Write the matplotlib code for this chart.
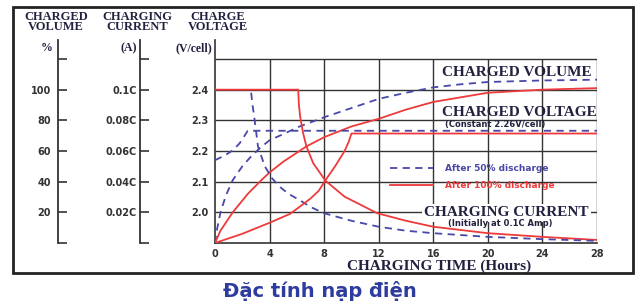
import matplotlib.pyplot as plt
from matplotlib.patches import Rectangle

# charging time (hours) and readings, after 50% discharge (blue) / 100% discharge (red)
blue_vol_h = [0, 0.15, 0.4, 0.8, 1.3, 2.0, 2.6, 3.3, 4.0, 5.0, 6.2, 8.0, 10, 12, 14, 16, 18, 20, 24, 28]
blue_vol = [0, 9, 20, 31, 41, 50, 56, 62, 67, 71, 76, 82, 88, 94, 98, 101.5, 103.5, 105, 106, 106.5]
red_vol_h = [0, 0.4, 1.3, 2.4, 3.4, 4.0, 5.0, 6.7, 8.0, 10, 12, 14, 16, 18, 20, 22, 24, 26, 28]
red_vol = [0, 8, 20, 32, 41, 46, 53, 63, 69, 76, 81, 87, 92, 95, 98, 99, 100, 100.5, 101]

blue_volt_h = [0, 0.7, 1.33, 1.8, 2.1, 2.4, 28]
blue_volt = [2.17, 2.185, 2.203, 2.225, 2.245, 2.266, 2.266]
red_volt_h = [0, 2, 4, 5.5, 6.2, 7, 7.6, 8.1, 8.8, 9.5, 9.8, 10.0, 28]
red_volt = [1.9, 1.93, 1.966, 1.995, 2.018, 2.045, 2.07, 2.105, 2.15, 2.2, 2.23, 2.257, 2.257]

blue_cur_h = [2.65, 2.75, 2.88, 3.15, 3.65, 4.2, 4.75, 5.4, 6.2, 7.0, 8.0, 10, 12, 14, 16, 20, 24, 28]
blue_cur = [0.098, 0.09, 0.082, 0.063, 0.05, 0.042, 0.0366, 0.032, 0.028, 0.0235, 0.0194, 0.0145, 0.0106, 0.008, 0.0064, 0.004, 0.0025, 0.0014]
red_cur_h = [0, 6.1, 6.15, 6.25, 6.45, 6.7, 7.2, 8.1, 9.5, 11.9, 14, 16, 20, 24, 28]
red_cur = [0.1, 0.1, 0.09, 0.082, 0.072, 0.063, 0.052, 0.0406, 0.0302, 0.0194, 0.0145, 0.0106, 0.0064, 0.004, 0.002]

x_ticks = [0, 4, 8, 12, 16, 20, 24, 28]
volt_ticks = [1.9, 2.0, 2.1, 2.2, 2.3, 2.4, 2.5]
volt_labels = ['', '2.0', '2.1', '2.2', '2.3', '2.4', '']
vol_ticks = [0, 20, 40, 60, 80, 100, 120]
vol_labels = ['', '20', '40', '60', '80', '100', '']
cur_ticks = [0, 0.02, 0.04, 0.06, 0.08, 0.1, 0.12]
cur_labels = ['', '0.02C', '0.04C', '0.06C', '0.08C', '0.1C', '']

BLUE = '#4848aa'
RED = '#ee3a3a'
DARK = '#333333'
TXT = '#222240'
W, H = 642, 304


def fx(x, y):
    return x / W, 1 - y / H


fig = plt.figure(figsize=(6.42, 3.04), dpi=100)
fig.patch.set_facecolor('white')

top = 1.9 + 0.6 * 203 / 184
ax = fig.add_axes([215 / W, 1 - 243 / H, (597 - 215) / W, (243 - 40) / H])
ax.set_xlim(0, 28)
ax.set_ylim(1.9, top)
for s in ['top', 'right']:
    ax.spines[s].set_visible(False)
for s in ['left', 'bottom']:
    ax.spines[s].set_color(DARK)
    ax.spines[s].set_linewidth(1.2)
ax.hlines(volt_ticks[1:], 0, 28, color=DARK, lw=1)
ax.vlines(x_ticks[1:], 1.9, 2.5, color=DARK, lw=1)
ax.set_xticks(x_ticks)
ax.set_yticks(volt_ticks)
ax.set_yticklabels(volt_labels)
ax.tick_params(axis='y', length=0, pad=5, labelsize=7, labelcolor=DARK)
ax.tick_params(axis='x', length=0, pad=4, labelsize=7, labelcolor=DARK)
for lab in ax.get_xticklabels() + ax.get_yticklabels():
    lab.set_fontweight('bold')


def side_axis(offset, ticks, labels, pad):
    a = ax.twinx()
    a.set_ylim(0, ticks[-1] * 203 / 184)
    for s in ['top', 'right', 'bottom']:
        a.spines[s].set_visible(False)
    a.spines['left'].set_visible(True)
    a.spines['left'].set_position(('outward', offset))
    a.spines['left'].set_color(DARK)
    a.spines['left'].set_linewidth(1.3)
    a.yaxis.set_ticks_position('left')
    a.set_yticks(ticks)
    a.set_yticklabels(labels)
    a.tick_params(axis='y', direction='in', length=6.5, width=1.2, color=DARK,
                  pad=pad, labelsize=7, labelcolor=DARK)
    for lab in a.get_yticklabels():
        lab.set_fontweight('bold')
    return a


ax_vol = side_axis(157 * 0.72, vol_ticks, vol_labels, 5)
ax_cur = side_axis(75 * 0.72, cur_ticks, cur_labels, 2.5)

dash = (0, (4, 3))
ax_vol.plot(blue_vol_h, blue_vol, color=BLUE, lw=1.3, ls=dash)
ax_vol.plot(red_vol_h, red_vol, color=RED, lw=1.3)
ax_cur.plot(red_cur_h, red_cur, color=RED, lw=1.3)
ax_cur.plot(blue_cur_h, blue_cur, color=BLUE, lw=1.3, ls=dash)
lb, = ax_cur.plot(blue_volt_h, [(v - 1.9) * 0.2 for v in blue_volt], color=BLUE, lw=1.3, ls=dash,
                  label='After 50% discharge')
lr, = ax_cur.plot(red_volt_h, [(v - 1.9) * 0.2 for v in red_volt], color=RED, lw=1.3,
                  label='After 100% discharge')

leg = fig.legend(handles=[lb, lr], loc='upper left', bbox_to_anchor=fx(390, 164),
                 bbox_transform=fig.transFigure, frameon=False, borderpad=0,
                 borderaxespad=0, handlelength=4.8, handletextpad=1.3, labelspacing=0.85,
                 prop={'size': 6.5, 'weight': 'bold'}, labelcolor='linecolor')

serif = {'family': 'Liberation Serif', 'weight': 'bold', 'color': TXT}
for x, t in [(56, 'CHARGED\nVOLUME'), (137, 'CHARGING\nCURRENT'), (218, 'CHARGE\nVOLTAGE')]:
    fig.text(*fx(x, 22), t, ha='center', va='center', fontsize=9, linespacing=0.85, **serif)
fig.text(*fx(53, 48), '%', ha='right', va='center', fontsize=8.5, **serif)
fig.text(*fx(137, 48), '(A)', ha='right', va='center', fontsize=8.5, **serif)
fig.text(*fx(212, 48), '(V/cell)', ha='right', va='center', fontsize=8.5, **serif)

fig.text(*fx(442, 73), 'CHARGED VOLUME', ha='left', va='center', fontsize=11, **serif)
fig.text(*fx(442, 112), 'CHARGED VOLTAGE', ha='left', va='center', fontsize=11, **serif)
fig.text(*fx(445, 124), '(Constant 2.26V/cell)', ha='left', va='center', fontsize=6,
         fontweight='bold', color=TXT)
fig.text(*fx(424, 213), 'CHARGING CURRENT', ha='left', va='center', fontsize=11,
         bbox=dict(facecolor='white', edgecolor='none', pad=1.5), **serif)
fig.text(*fx(448, 224), '(Initially at 0.1C Amp)', ha='left', va='center', fontsize=6,
         fontweight='bold', color=TXT)
fig.text(*fx(439, 266), 'CHARGING TIME (Hours)', ha='center', va='center', fontsize=11, **serif)

fig.text(*fx(223, 291), 'Đặc tính nạp điện', ha='left', va='center', fontsize=14,
         fontweight='bold', color='#2d3c9e')

x0, y1 = fx(13, 7)
x1, y0 = fx(633, 273)
fig.add_artist(Rectangle((x0, y0), x1 - x0, y1 - y0, transform=fig.transFigure,
                         fill=False, lw=2, ec='#222222'))

fig.savefig('out.png', dpi=100)
